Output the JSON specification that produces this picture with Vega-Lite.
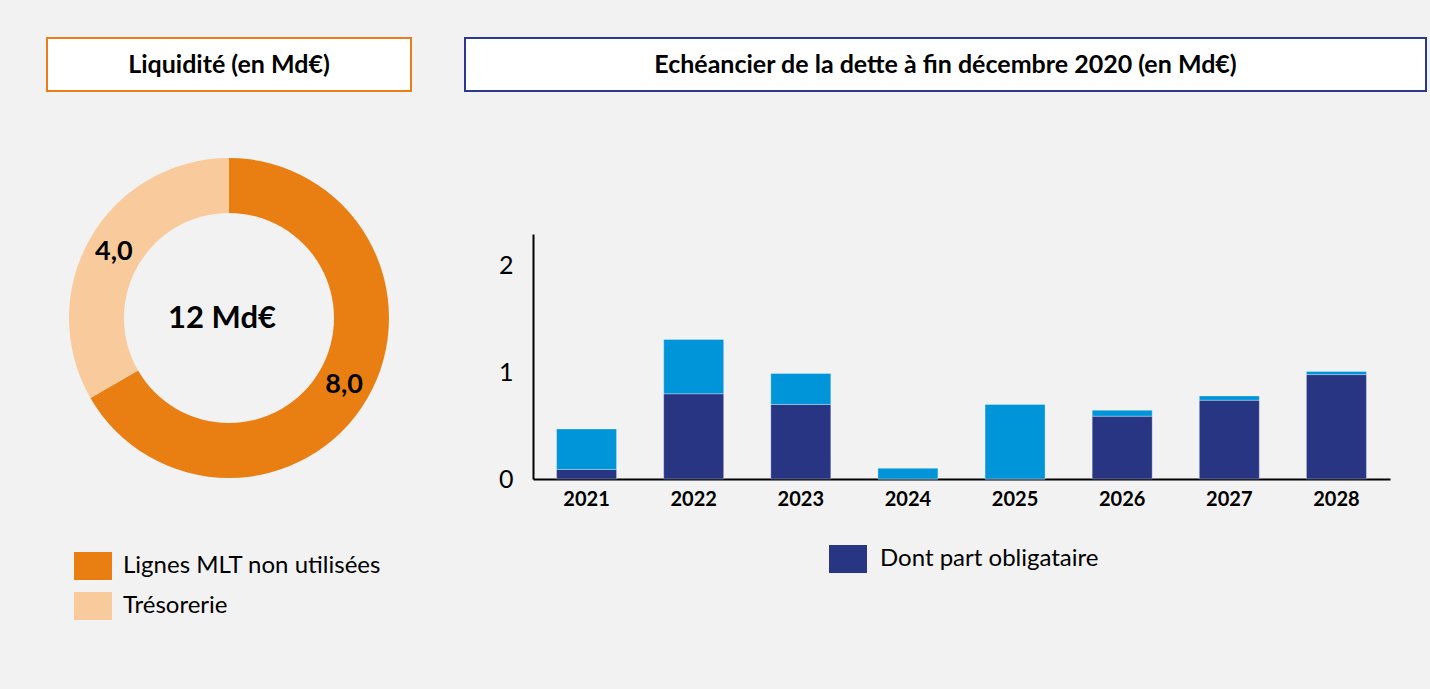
{
  "$schema": "https://vega.github.io/schema/vega-lite/v6.json",
  "background": "#f2f2f2",
  "padding": {"left": 46, "top": 37, "right": 3, "bottom": 69},
  "config": {"view": {"stroke": null}, "font": "Lato"},
  "datasets": {
    "liquidite": [
      {"cat": "Lignes MLT non utilisées", "value": 8.0, "label": "8,0"},
      {"cat": "Trésorerie", "value": 4.0, "label": "4,0"}
    ],
    "dette": [
      {"annee": "2021", "serie": "Dont part obligataire", "valeur": 0.09},
      {"annee": "2021", "serie": "Part non obligataire", "valeur": 0.38},
      {"annee": "2022", "serie": "Dont part obligataire", "valeur": 0.80},
      {"annee": "2022", "serie": "Part non obligataire", "valeur": 0.51},
      {"annee": "2023", "serie": "Dont part obligataire", "valeur": 0.70},
      {"annee": "2023", "serie": "Part non obligataire", "valeur": 0.29},
      {"annee": "2024", "serie": "Dont part obligataire", "valeur": 0.0},
      {"annee": "2024", "serie": "Part non obligataire", "valeur": 0.10},
      {"annee": "2025", "serie": "Dont part obligataire", "valeur": 0.0},
      {"annee": "2025", "serie": "Part non obligataire", "valeur": 0.70},
      {"annee": "2026", "serie": "Dont part obligataire", "valeur": 0.59},
      {"annee": "2026", "serie": "Part non obligataire", "valeur": 0.055},
      {"annee": "2027", "serie": "Dont part obligataire", "valeur": 0.74},
      {"annee": "2027", "serie": "Part non obligataire", "valeur": 0.04},
      {"annee": "2028", "serie": "Dont part obligataire", "valeur": 0.98},
      {"annee": "2028", "serie": "Part non obligataire", "valeur": 0.03}
    ]
  },
  "resolve": {"scale": {"color": "independent"}, "legend": {"color": "independent"}},
  "columns": 2,
  "align": {"row": "each", "column": "none"},
  "spacing": {"row": 66, "column": 52},
  "concat": [
    {
      "width": 364,
      "height": 53,
      "view": {"fill": "white", "stroke": "#ed7d1a", "strokeWidth": 2},
      "data": {"values": [{"titre": "Liquidité (en Md€)"}]},
      "mark": {"type": "text", "font": "Lato", "fontSize": 25, "fontWeight": "bold", "color": "black", "baseline": "middle"},
      "encoding": {"text": {"field": "titre", "type": "nominal"}}
    },
    {
      "width": 961,
      "height": 53,
      "view": {"fill": "white", "stroke": "#2b3a8c", "strokeWidth": 2},
      "data": {"values": [{"titre": "Echéancier de la dette à fin décembre 2020 (en Md€)"}]},
      "mark": {"type": "text", "font": "Lato", "fontSize": 25, "fontWeight": "bold", "color": "black", "baseline": "middle"},
      "encoding": {"text": {"field": "titre", "type": "nominal"}}
    },
    {
      "width": 364,
      "height": 168,
      "layer": [
        {
          "data": {"name": "liquidite"},
          "mark": {"type": "arc", "innerRadius": 105, "outerRadius": 160},
          "encoding": {
            "theta": {"field": "value", "type": "quantitative", "stack": true},
            "order": {"field": "cat", "type": "nominal", "sort": "ascending"},
            "color": {
              "field": "cat",
              "type": "nominal",
              "scale": {"domain": ["Lignes MLT non utilisées", "Trésorerie"], "range": ["#e97e13", "#f9cb9c"]},
              "legend": {
                "title": null,
                "orient": "none",
                "legendX": 27,
                "legendY": 313,
                "symbolType": "M-1,-0.737H1V0.737H-1Z",
                "symbolSize": 1444,
                "symbolStrokeWidth": 0,
                "labelFont": "Lato",
                "labelFontSize": 24,
                "labelColor": "black",
                "labelOffset": 11,
                "labelLimit": 0,
                "rowPadding": 6
              }
            }
          }
        },
        {
          "data": {"name": "liquidite"},
          "mark": {"type": "text", "radius": 133, "font": "Lato", "fontSize": 27, "fontWeight": "bold", "color": "black"},
          "encoding": {
            "theta": {"field": "value", "type": "quantitative", "stack": true},
            "order": {"field": "cat", "type": "nominal", "sort": "ascending"},
            "text": {"field": "label", "type": "nominal"}
          }
        },
        {
          "data": {"values": [{"centre": "12 Md€"}]},
          "mark": {"type": "text", "font": "Lato", "fontSize": 31, "fontWeight": "bold", "color": "black", "dx": -7, "dy": 1},
          "encoding": {"text": {"field": "centre", "type": "nominal"}}
        }
      ]
    },
    {
      "width": 857,
      "height": 245,
      "data": {"name": "dette"},
      "mark": {"type": "bar", "stroke": "#ffffff", "strokeOpacity": 0.3, "strokeWidth": 1},
      "encoding": {
        "x": {
          "field": "annee",
          "type": "ordinal",
          "scale": {"paddingInner": 0.44, "paddingOuter": 0.22},
          "axis": {"title": null, "labelAngle": 0, "labelFont": "Lato", "labelFontSize": 20, "labelFontWeight": "bold", "labelColor": "black", "ticks": false, "tickSize": 0, "labelPadding": 10, "domainColor": "black", "domainWidth": 2, "grid": false}
        },
        "y": {
          "field": "valeur",
          "type": "quantitative",
          "stack": "zero",
          "scale": {"domain": [0, 2.3], "nice": false},
          "axis": {"title": null, "values": [0, 1, 2], "labelFont": "Lato", "labelFontSize": 25, "labelColor": "black", "ticks": false, "tickSize": 0, "labelPadding": 20, "domainColor": "black", "domainWidth": 2, "grid": false, "minExtent": 69, "maxExtent": 69}
        },
        "color": {
          "field": "serie",
          "type": "nominal",
          "scale": {"domain": ["Dont part obligataire", "Part non obligataire"], "range": ["#283583", "#0095d9"]},
          "legend": {
            "values": ["Dont part obligataire"],
            "title": null,
            "orient": "none",
            "legendX": 296,
            "legendY": 306,
            "symbolType": "M-1,-0.737H1V0.737H-1Z",
            "symbolSize": 1444,
            "symbolStrokeWidth": 0,
            "labelFont": "Lato",
            "labelFontSize": 24,
            "labelColor": "black",
            "labelOffset": 13,
            "labelLimit": 0
          }
        },
        "order": {"field": "serie", "type": "nominal", "sort": "ascending"}
      }
    }
  ]
}
